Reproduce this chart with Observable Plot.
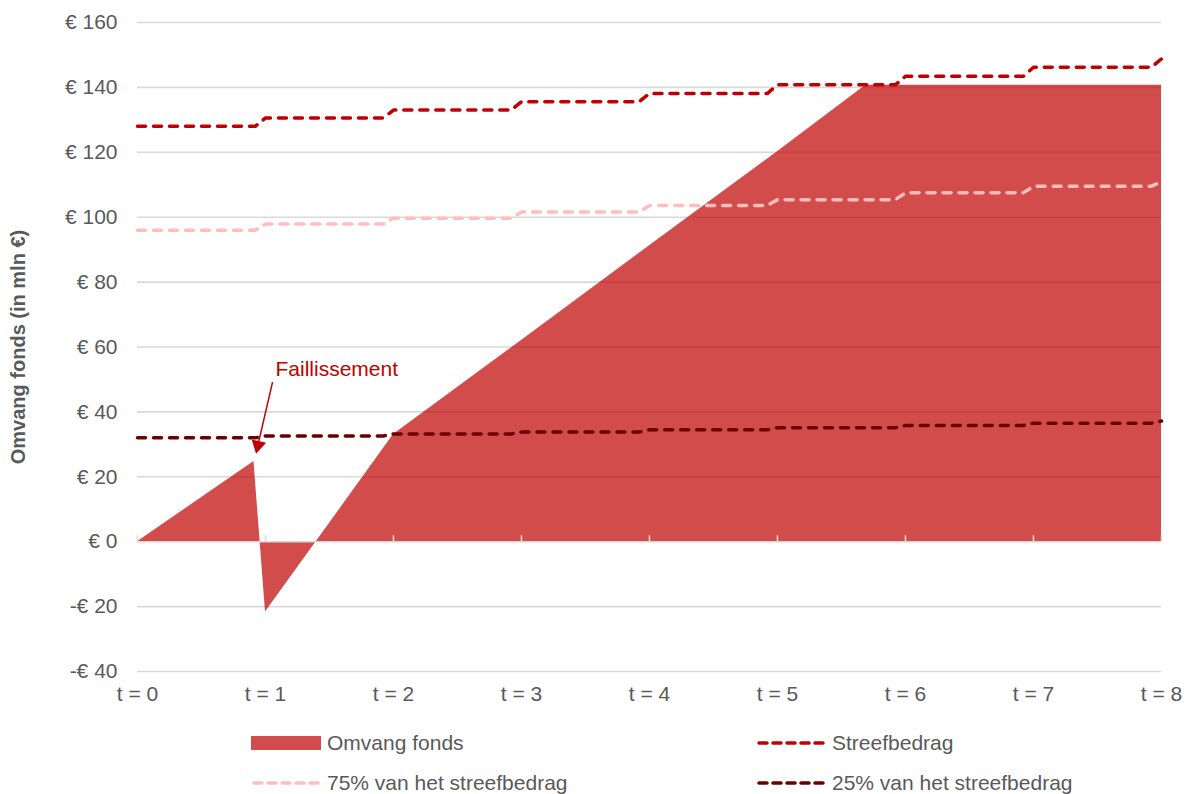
<!DOCTYPE html>
<html>
<head>
<meta charset="utf-8">
<script src="https://cdn.jsdelivr.net/npm/d3@7"></script>
<script src="https://cdn.jsdelivr.net/npm/@observablehq/plot@0.6"></script>
<style>
  html, body { margin: 0; padding: 0; background: #fff; }
  body { width: 1185px; height: 794px; overflow: hidden; font-family: "Liberation Sans", Arial, sans-serif; }
  #chart { position: relative; }
  g[aria-label="y-axis label"] text { font-weight: bold; font-size: 20px; }
  #legend { position: relative; height: 82px; color: #595959; font-size: 21px; }
  .item { position: absolute; display: flex; align-items: center; height: 24px; }
  .item svg { margin-right: 6px; }
</style>
</head>
<body>
<div id="chart"></div>
<div id="legend"></div>
<script>
// ---- data ----
const xTicks = [0, 1, 2, 3, 4, 5, 6, 7, 8];
const yTicks = [-40, -20, 0, 20, 40, 60, 80, 100, 120, 140, 160];

// Omvang fonds (area)
const fundT = [0, 0.91, 1, 2, 3, 4, 5, 5.69, 6, 7, 8];
const fundV = [0, 24.7, -21.7, 33, 62, 91.2, 120.2, 140.7, 140.7, 140.7, 140.7];

// Step lines: value per year interval t=k..k+1, plus the value reached at t=8
const streef = [128.0, 130.6, 133.0, 135.6, 138.1, 140.8, 143.4, 146.2];
const streefEnd = 148.8;
const streef75 = [96.0, 97.9, 99.7, 101.6, 103.6, 105.4, 107.5, 109.5];
const streef75End = 111.0;
const streef25 = [32.0, 32.6, 33.2, 33.8, 34.5, 35.1, 35.8, 36.5];
const streef25End = 37.2;
const rampAt = 0.92; // fraction of the year where the step starts rising

// Annotation
const annLabel = "Faillissement";
const annText = {t: 1.078, v: 53.2};
const annFrom = {t: 1.055, v: 49.2};
const annHeadBase = {t: 0.948, v: 31.0};
const annHeadCenter = {t: 0.941, v: 29.7};

const seriesNames = ["Omvang fonds", "Streefbedrag", "75% van het streefbedrag", "25% van het streefbedrag"];
const colors = {fund: "#c00000", streef: "#c00000", s75: "#ffbdbd", s25: "#6b0000"};

// ---- build tables ----
const fund = fundT.map((t, i) => ({t, v: fundV[i]}));
function stepTable(vals, end) {
  const out = [];
  vals.forEach((v, k) => { out.push({t: k, v}); out.push({t: k + rampAt, v}); });
  out.push({t: vals.length, v: end});
  return out;
}
const sStreef = stepTable(streef, streefEnd);
const s75 = stepTable(streef75, streef75End);
const s25 = stepTable(streef25, streef25End);

const euro = d => (d < 0 ? "-" : "") + "€ " + Math.abs(d);
const dashStyle = {strokeWidth: 3.5, strokeDasharray: "8 8", strokeLinecap: "round", strokeLinejoin: "round"};

const plot = Plot.plot({
  width: 1185,
  height: 712,
  marginLeft: 137,
  marginRight: 24,
  marginTop: 22,
  marginBottom: 41,
  style: {fontFamily: "'Liberation Sans', Arial, sans-serif", fontSize: "21px", color: "#595959", background: "#fff"},
  x: {domain: [0, 8]},
  y: {domain: [-40, 160]},
  marks: [
    Plot.gridY(yTicks.filter(d => d !== 0), {stroke: "#d9d9d9", strokeOpacity: 1, strokeWidth: 1.6}),
    Plot.areaY(fund, {x: "t", y: "v", fill: colors.fund, fillOpacity: 0.7}),
    Plot.ruleY([0], {stroke: "#d9d9d9", strokeWidth: 1.6}),
    Plot.ruleX(xTicks, {x: d => d, y1: 0, y2: 0, insetTop: -6, stroke: "#d9d9d9", strokeWidth: 1.6}),
    Plot.line(s75, {x: "t", y: "v", stroke: colors.s75, ...dashStyle}),
    Plot.line(sStreef, {x: "t", y: "v", stroke: colors.streef, ...dashStyle}),
    Plot.line(s25, {x: "t", y: "v", stroke: colors.s25, ...dashStyle}),
    Plot.link([0], {x1: () => annFrom.t, y1: () => annFrom.v, x2: () => annHeadBase.t, y2: () => annHeadBase.v, stroke: "#c00000", strokeWidth: 1.5}),
    Plot.dot([0], {x: () => annHeadCenter.t, y: () => annHeadCenter.v, symbol: "triangle", r: 5.5, fill: "#c00000", stroke: "none", rotate: 193}),
    Plot.text([annText], {x: "t", y: "v", text: () => annLabel, textAnchor: "start", fill: "#c00000", fontSize: 21}),
    Plot.axisY(yTicks, {tickFormat: euro, tickSize: 0, tickPadding: 20, label: "Omvang fonds (in mln €)", labelAnchor: "center", labelArrow: "none", labelOffset: 127, fontSize: 21}),
    Plot.axisX(xTicks, {tickFormat: d => "t = " + d, tickSize: 0, tickPadding: 15, label: null, fontSize: 21})
  ]
});
document.getElementById("chart").appendChild(plot);

// ---- legend ----
const legend = document.getElementById("legend");
const legendPos = [
  {left: 251, top: 19, kind: "rect", color: colors.fund},
  {left: 756, top: 19, kind: "dash", color: colors.streef},
  {left: 251, top: 59, kind: "dash", color: colors.s75},
  {left: 756, top: 59, kind: "dash", color: colors.s25}
];
seriesNames.forEach((name, i) => {
  const p = legendPos[i];
  const div = document.createElement("div");
  div.className = "item";
  div.style.left = p.left + "px";
  div.style.top = p.top + "px";
  const sw = p.kind === "rect"
    ? `<svg width="70" height="24"><rect x="0" y="5" width="70" height="14" fill="${p.color}" fill-opacity="0.7"/></svg>`
    : `<svg width="70" height="24"><line x1="3" y1="12" x2="68" y2="12" stroke="${p.color}" stroke-width="3.5" stroke-dasharray="8 6" stroke-linecap="round"/></svg>`;
  div.innerHTML = sw + `<span>${name}</span>`;
  legend.appendChild(div);
});
</script>
</body>
</html>
